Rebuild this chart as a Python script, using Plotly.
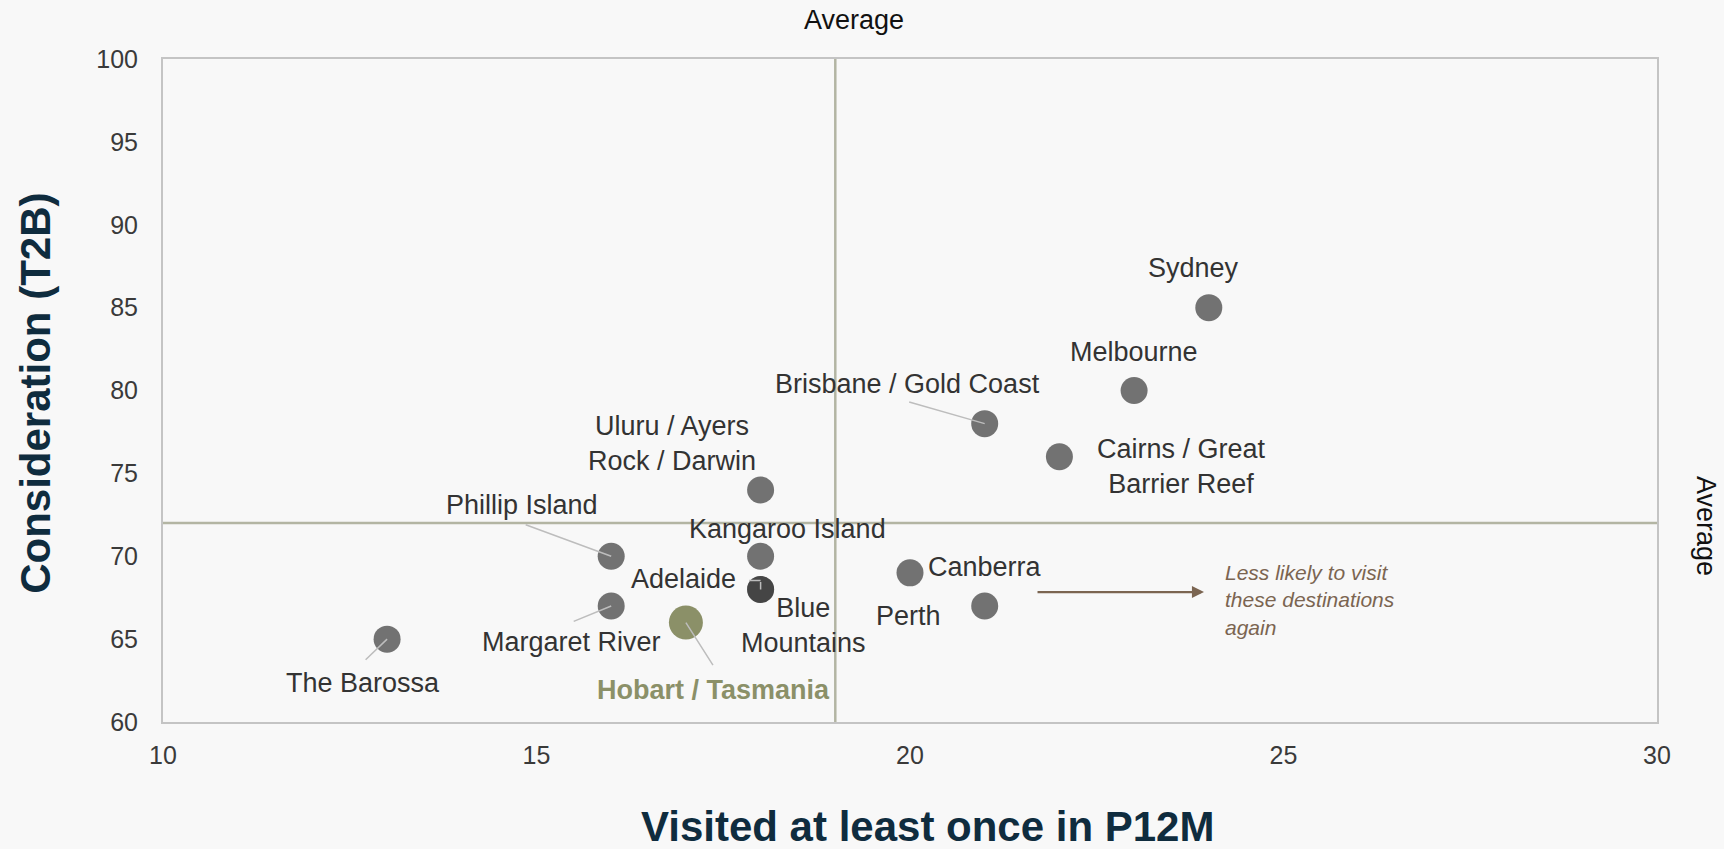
import plotly.graph_objects as go

# Destination data
destinations = [
    "Sydney", "Melbourne", "Brisbane / Gold Coast", "Cairns / Great<br>Barrier Reef",
    "Uluru / Ayers<br>Rock / Darwin", "Kangaroo Island", "Adelaide", "Blue<br>Mountains",
    "Canberra", "Perth", "Phillip Island", "Margaret River", "The Barossa",
    "Hobart / Tasmania",
]
visited_p12m = [24, 23, 21, 22, 18, 18, 18, 18, 20, 21, 16, 16, 13, 17]
consideration_t2b = [85, 80, 78, 76, 74, 70, 68, 68, 69, 67, 70, 67, 65, 66]

highlight = "Hobart / Tasmania"
avg_visited = 19
avg_consideration = 72

x_ticks = [10, 15, 20, 25, 30]
y_ticks = [60, 65, 70, 75, 80, 85, 90, 95, 100]

FONT = "Liberation Sans, Arial, sans-serif"
BG = "#f8f8f8"
TEXT = "#333333"
NAVY = "#0f2c3e"
OLIVE = "#8b9068"
BROWN = "#7b6551"
LEADER = "#bdbdbd"

# label placement in pixels relative to each point: (dx, dy up)
label_offset = {
    "Sydney": (-15, 40),
    "Melbourne": (0, 39),
    "Brisbane / Gold Coast": (-77, 40),
    "Cairns / Great<br>Barrier Reef": (122, -10),
    "Uluru / Ayers<br>Rock / Darwin": (-89, 46),
    "Kangaroo Island": (27, 27),
    "Adelaide": (-77, 10),
    "Blue<br>Mountains": (43, -36),
    "Canberra": (75, 6),
    "Perth": (-76, -10),
    "Phillip Island": (-89, 51),
    "Margaret River": (-40, -36),
    "The Barossa": (-24, -44),
    "Hobart / Tasmania": (28, -67),
}
# leader line tail positions in pixels relative to the point (ax, ay down)
leader_tail = {
    "Brisbane / Gold Coast": (-77, -22),
    "Phillip Island": (-87, -32),
    "Margaret River": (-39, 16),
    "The Barossa": (-23, 22),
    "Hobart / Tasmania": (28, 44),
}

fig = go.Figure()

others = [i for i, n in enumerate(destinations) if n != highlight]
hi = [i for i, n in enumerate(destinations) if n == highlight]

fig.add_trace(go.Scatter(
    x=[visited_p12m[i] for i in others],
    y=[consideration_t2b[i] for i in others],
    mode="markers",
    marker=dict(size=27, color="#303030", opacity=0.67, line=dict(width=0)),
    hoverinfo="skip", showlegend=False,
))
fig.add_trace(go.Scatter(
    x=[visited_p12m[i] for i in hi],
    y=[consideration_t2b[i] for i in hi],
    mode="markers",
    marker=dict(size=34, color=OLIVE, line=dict(width=0)),
    hoverinfo="skip", showlegend=False,
))

annotations = []
for name, xv, yv in zip(destinations, visited_p12m, consideration_t2b):
    if name in leader_tail:
        ax, ay = leader_tail[name]
        annotations.append(dict(
            x=xv, y=yv, xref="x", yref="y", text="", showarrow=True,
            arrowhead=0, arrowwidth=1.5, arrowcolor=LEADER, ax=ax, ay=ay,
        ))
    dx, dy = label_offset[name]
    is_hi = name == highlight
    annotations.append(dict(
        x=xv, y=yv, xref="x", yref="y",
        text=f"<b>{name}</b>" if is_hi else name,
        showarrow=False, xshift=dx, yshift=dy,
        font=dict(family=FONT, size=27, color=OLIVE if is_hi else TEXT),
        align="center",
    ))

# elbow leader from the Adelaide label
ade = destinations.index("Adelaide")
annotations.append(dict(x=visited_p12m[ade], y=consideration_t2b[ade], xref="x", yref="y",
                        text="", showarrow=True, arrowhead=0, arrowwidth=1.5,
                        arrowcolor=LEADER, ax=0, ay=-9))
annotations.append(dict(x=visited_p12m[ade], y=consideration_t2b[ade], xref="x", yref="y",
                        text="", showarrow=True, arrowhead=0, arrowwidth=1.5,
                        arrowcolor=LEADER, ax=-13, ay=0, yshift=9))

# average captions
annotations.append(dict(x=0.4625, y=1.059, xref="paper", yref="paper", text="Average",
                        showarrow=False, font=dict(family=FONT, size=27, color="#111111"),
                        xanchor="center", yanchor="middle"))
annotations.append(dict(x=1.0328, y=0.2956, xref="paper", yref="paper", text="Average",
                        showarrow=False, textangle=90,
                        font=dict(family=FONT, size=27, color="#111111"),
                        xanchor="center", yanchor="middle"))

# callout arrow and note
annotations.append(dict(x=0.6968, y=0.196, xref="paper", yref="paper", text="",
                        showarrow=True, arrowhead=2, arrowsize=1.1, arrowwidth=2.2,
                        arrowcolor=BROWN, ax=-168, ay=0))
annotations.append(dict(x=0.7095, y=0.184, xref="paper", yref="paper",
                        text="<i>Less likely to visit<br>these destinations<br>again</i>",
                        showarrow=False, align="left", xanchor="left", yanchor="middle",
                        font=dict(family=FONT, size=21, color=BROWN)))

# axis titles
annotations.append(dict(x=0.512, y=-0.158, xref="paper", yref="paper",
                        text="<b>Visited at least once in P12M</b>", showarrow=False,
                        xanchor="center", yanchor="middle",
                        font=dict(family=FONT, size=42, color=NAVY)))
annotations.append(dict(x=-0.085, y=0.495, xref="paper", yref="paper",
                        text="<b>Consideration (T2B)</b>", showarrow=False, textangle=-90,
                        xanchor="center", yanchor="middle",
                        font=dict(family=FONT, size=42, color=NAVY)))

shapes = [
    dict(type="line", xref="x", yref="paper", x0=avg_visited, x1=avg_visited, y0=0, y1=1,
         line=dict(color="#b3b5a3", width=2.5), layer="below"),
    dict(type="line", xref="paper", yref="y", x0=0, x1=1, y0=avg_consideration,
         y1=avg_consideration, line=dict(color="#b3b5a3", width=2.5), layer="below"),
]

fig.update_layout(
    width=1724, height=849,
    margin=dict(l=163, r=67, t=59, b=127),
    paper_bgcolor=BG, plot_bgcolor=BG,
    annotations=annotations, shapes=shapes,
    font=dict(family=FONT, color=TEXT),
)
fig.update_xaxes(
    range=[10, 30], tickvals=x_ticks, showgrid=False, zeroline=False,
    showline=True, mirror=True, linecolor="#c4c4c4", linewidth=2,
    ticks="", ticklabelstandoff=10, tickfont=dict(family=FONT, size=25, color="#3a3a3a"),
)
fig.update_yaxes(
    range=[60, 100], tickvals=y_ticks, showgrid=False, zeroline=False,
    showline=True, mirror=True, linecolor="#c4c4c4", linewidth=2,
    ticks="", ticklabelstandoff=18, tickfont=dict(family=FONT, size=25, color="#3a3a3a"),
)

fig.write_html("out.html")
